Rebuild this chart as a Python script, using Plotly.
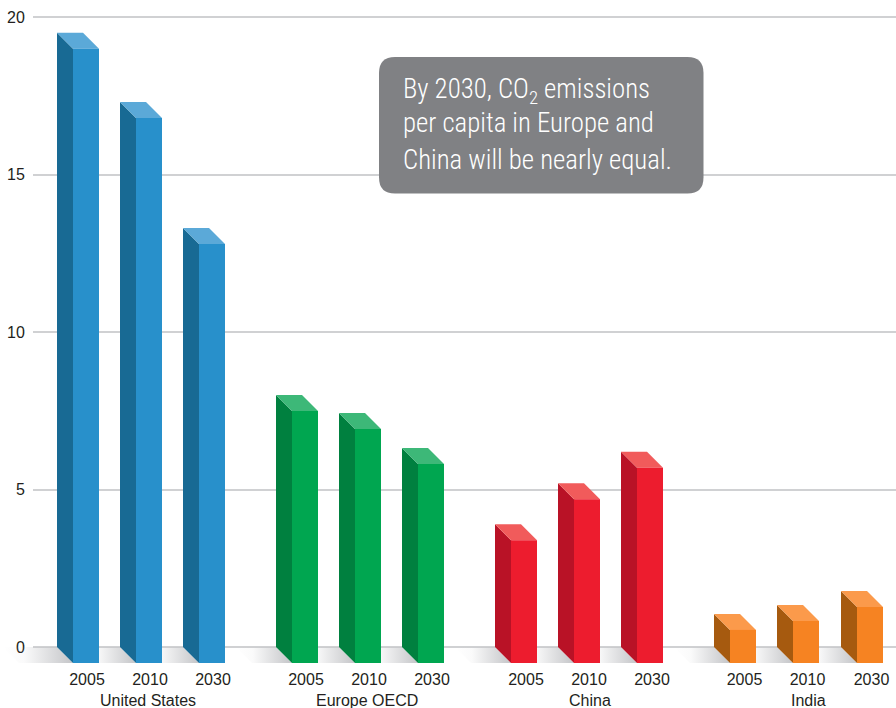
import plotly.graph_objects as go

# ---------- data ----------
regions = ["United States", "Europe OECD", "China", "India"]
years = ["2005", "2010", "2030"]
us_values = [19.5, 17.3, 13.3]
europe_values = [8.0, 7.43, 6.32]
china_values = [3.9, 5.2, 6.2]
india_values = [1.05, 1.33, 1.78]
y_ticks = [0, 5, 10, 15, 20]
callout_lines = ["By 2030, CO<sub>2</sub> emissions", "per capita in Europe and", "China will be nearly equal."]

# ---------- geometry / style ----------
W, H = 896, 708
PX_PER_UNIT = 31.5
ZERO_PX = 647
PLOT_LEFT = 33
PLOT_BOTTOM = 668
DEPTH = 16
FRONT_W = 26
GROUP_X = [57, 276, 495, 714]
GROUP_LABEL_DX = [91, 91, 95, 94]
TICK_DX = [30, 30, 31, 30.5]
BAR_STEP = 63
SHADOW_W = 40
SHADOW_W_FIRST = 54
FONT = "Liberation Sans"
TEXT = "#231f20"
GRID = "#d0d1d3"
PALETTES = [
    ("#2890cb", "#186a94", "#5ba9d8"),
    ("#00a650", "#00803f", "#3db878"),
    ("#ed1c2e", "#b91226", "#f15b5b"),
    ("#f68322", "#a65a0f", "#fb9a4b"),
]
series = [us_values, europe_values, china_values, india_values]

depth_u = DEPTH / PX_PER_UNIT
ymin = -(PLOT_BOTTOM - ZERO_PX) / PX_PER_UNIT
ymax = ZERO_PX / PX_PER_UNIT


def py(px):
    return (ZERO_PX - px) / PX_PER_UNIT


def poly(xs, ys, color):
    return go.Scatter(x=xs, y=ys, xaxis="x2", yaxis="y2", mode="lines", fill="toself", fillcolor=color,
                      line=dict(width=0, color=color), hoverinfo="skip", showlegend=False)


fig = go.Figure()
fig.add_trace(go.Scatter(x=[], y=[], showlegend=False, hoverinfo="skip"))
tick_x, tick_t = [], []
bars = []
for g, vals in enumerate(series):
    for b, v in enumerate(vals):
        x0 = GROUP_X[g] + b * BAR_STEP + (1 if g == 3 and b == 2 else 0)
        bars.append((x0, v, g))
        tick_x.append(x0 + TICK_DX[g])
        tick_t.append(years[b])

# floor shadows first
for i, (x0, v, g) in enumerate(bars):
    sw = SHADOW_W_FIRST if i == 0 else SHADOW_W
    fig.add_trace(go.Scatter(
        x=[x0 - sw, x0, x0 + DEPTH, x0 + DEPTH - sw],
        y=[0, 0, -depth_u, -depth_u], xaxis="x2", yaxis="y2",
        mode="lines", fill="toself", line=dict(width=0), hoverinfo="skip", showlegend=False,
        fillgradient=dict(type="horizontal", start=x0 - sw, stop=x0 + DEPTH,
                          colorscale=[[0, "rgba(196,197,200,0)"], [0.3, "rgba(196,197,200,0.08)"],
                                      [1, "rgba(196,197,200,1)"]]),
    ))

# bars: side, top, front
for x0, v, g in bars:
    front, side, top = PALETTES[g]
    xf = x0 + DEPTH
    fig.add_trace(poly([x0, xf, xf, x0], [v, v - depth_u, -depth_u, 0], side))
    fig.add_trace(poly([x0, x0 + FRONT_W, xf + FRONT_W, xf], [v, v, v - depth_u, v - depth_u], top))
    fig.add_trace(poly([xf, xf + FRONT_W, xf + FRONT_W, xf],
                       [v - depth_u, v - depth_u, -depth_u, -depth_u], front))

annotations = []
for g, name in enumerate(regions):
    annotations.append(dict(x=GROUP_X[g] + GROUP_LABEL_DX[g], xref="x2", yref="paper",
                            y=(PLOT_BOTTOM - 700) / PLOT_BOTTOM, text=name, showarrow=False,
                            xanchor="center", yanchor="middle", font=dict(family=FONT, size=16, color=TEXT)))
for line, px in zip(callout_lines, [91, 123, 159.5]):
    annotations.append(dict(x=400.5, y=py(px), xref="x2", yref="y2", text=line, showarrow=False,
                            xanchor="left", yanchor="middle",
                            font=dict(family="Roboto Condensed", weight=300, size=26.8, color="#ffffff")))

x1, x2, y1, y2, r = 379, 703.5, py(57), py(193.5), 16
ru = r / PX_PER_UNIT
path = (f"M{x1 + r},{y1} L{x2 - r},{y1} Q{x2},{y1} {x2},{y1 - ru} L{x2},{y2 + ru} Q{x2},{y2} {x2 - r},{y2} "
        f"L{x1 + r},{y2} Q{x1},{y2} {x1},{y2 + ru} L{x1},{y1 - ru} Q{x1},{y1} {x1 + r},{y1} Z")

fig.update_layout(
    width=W, height=H, margin=dict(l=0, r=0, t=0, b=H - PLOT_BOTTOM, pad=0),
    paper_bgcolor="#ffffff", plot_bgcolor="rgba(0,0,0,0)", showlegend=False,
    font=dict(family=FONT, size=16, color=TEXT),
    xaxis=dict(domain=[PLOT_LEFT / W, 1], range=[PLOT_LEFT, W], tickmode="array", tickvals=tick_x, ticktext=tick_t,
               showgrid=False, zeroline=False, showline=False, ticks="", tickangle=0, fixedrange=True, anchor="y"),
    yaxis=dict(range=[ymin, ymax], tickmode="array", tickvals=y_ticks, showgrid=True, gridcolor=GRID, gridwidth=1.5,
               zeroline=False, showline=False, ticks="outside", ticklen=4, tickcolor="rgba(0,0,0,0)",
               fixedrange=True, anchor="x"),
    xaxis2=dict(domain=[0, 1], range=[0, W], visible=False, fixedrange=True, anchor="y2"),
    yaxis2=dict(domain=[0, 1], range=[ymin, ymax], visible=False, fixedrange=True, anchor="x2"),
    shapes=[dict(type="path", path=path, xref="x2", yref="y2", fillcolor="#808184", line=dict(width=0), layer="above")],
    annotations=annotations,
)

fig.write_html("out.html", config=dict(displayModeBar=False),
               post_script="document.body.style.margin='0';document.documentElement.style.overflow='hidden';")
